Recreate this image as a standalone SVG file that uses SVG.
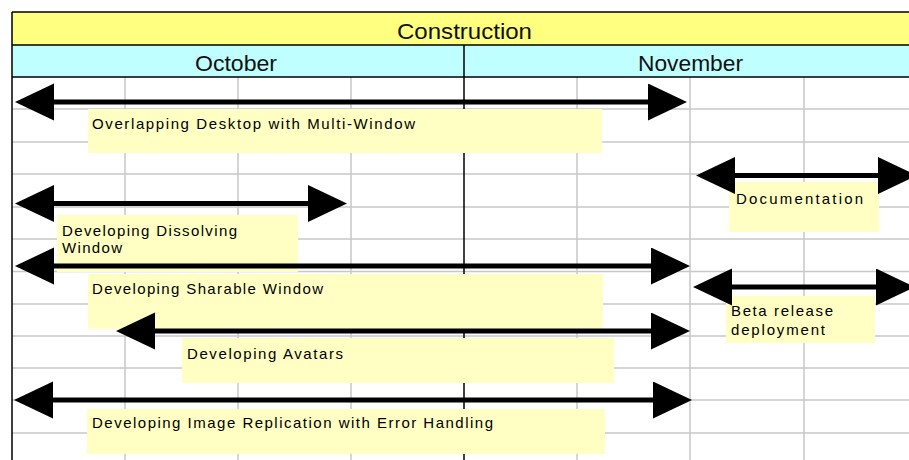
<svg xmlns="http://www.w3.org/2000/svg" width="909" height="460" viewBox="0 0 909 460">
  <style>
    .grid { stroke: #c8c8c8; stroke-width: 1.5; fill: none; }
    .rule { stroke: #000; stroke-width: 1.5; fill: none; }
    .hdr { font-family: "Liberation Sans", Arial, sans-serif; font-size: 22px; fill: #111; }
    .box { fill: #ffffc4; stroke: none; }
    .lbl { font-family: "Liberation Sans", Arial, sans-serif; font-size: 15px; fill: #000; }
    .bar { stroke: #000; stroke-width: 5; fill: none; marker-start: url(#head); marker-end: url(#head); }
  </style>
  <defs>
    <marker id="head" markerUnits="userSpaceOnUse" markerWidth="41" markerHeight="38" refX="1" refY="18.5" orient="auto-start-reverse" viewBox="0 0 41 38">
      <path d="M0,0 L39,18.5 L0,37 Z" fill="#000"/>
    </marker>
  </defs>

  <rect width="909" height="460" fill="#fff"/>

  <!-- sheet grid -->
  <g id="grid">
    <path class="grid" d="M125,77V460 M238,77V460 M351,77V460 M577,77V460 M690,77V460 M804,77V460"/>
    <path class="grid" d="M12,109H916 M12,142H916 M12,174H916 M12,207H916 M12,239H916 M12,271.5H916 M12,304H916 M12,336H916 M12,368H916 M12,400H916 M12,433H916"/>
  </g>

  <!-- phase and month header -->
  <g id="header">
    <rect x="12" y="12" width="904" height="33" fill="#ffff80"/>
    <rect x="12" y="45" width="904" height="32" fill="#c0ffff"/>
    <path class="rule" d="M12,12H916 M12,45H916 M12,77H916 M12,12V460 M464,45V460"/>
    <text class="hdr" x="397" y="38.5" textLength="135" lengthAdjust="spacingAndGlyphs">Construction</text>
    <text class="hdr" x="195" y="71" textLength="82" lengthAdjust="spacingAndGlyphs">October</text>
    <text class="hdr" x="638" y="71" textLength="105" lengthAdjust="spacingAndGlyphs">November</text>
  </g>

  <!-- task labels -->
  <g id="task-overlapping">
    <rect class="box" x="88" y="109" width="514" height="44"/>
    <text class="lbl" x="92" y="129" textLength="323">Overlapping Desktop with Multi-Window</text>
  </g>
  <g id="task-documentation">
    <rect class="box" x="729" y="182" width="150" height="50"/>
    <text class="lbl" x="736" y="204" textLength="127">Documentation</text>
  </g>
  <g id="task-dissolving">
    <rect class="box" x="57" y="215" width="241" height="57"/>
    <text class="lbl" x="62" y="236" textLength="175">Developing Dissolving</text>
    <text class="lbl" x="62" y="253" textLength="60">Window</text>
  </g>
  <g id="task-sharable">
    <rect class="box" x="88" y="274" width="515" height="55"/>
    <text class="lbl" x="92" y="294" textLength="231">Developing Sharable Window</text>
  </g>
  <g id="task-beta">
    <rect class="box" x="726" y="296" width="149" height="47"/>
    <text class="lbl" x="731" y="316" textLength="102">Beta release</text>
    <text class="lbl" x="731" y="335" textLength="94">deployment</text>
  </g>
  <g id="task-avatars">
    <rect class="box" x="182" y="338" width="432" height="45"/>
    <text class="lbl" x="187" y="359" textLength="156">Developing Avatars</text>
  </g>
  <g id="task-replication">
    <rect class="box" x="87" y="409" width="518" height="45"/>
    <text class="lbl" x="92" y="428" textLength="401">Developing Image Replication with Error Handling</text>
  </g>

  <!-- duration arrows -->
  <g id="connectors">
    <line class="bar" x1="53" y1="102" x2="649" y2="102"/>
    <line class="bar" x1="734" y1="175.5" x2="879" y2="175.5"/>
    <line class="bar" x1="53" y1="203.5" x2="309" y2="203.5"/>
    <line class="bar" x1="53" y1="266" x2="652" y2="266"/>
    <line class="bar" x1="731" y1="287" x2="877" y2="287"/>
    <line class="bar" x1="154" y1="331" x2="652" y2="331"/>
    <line class="bar" x1="52" y1="400" x2="654" y2="400"/>
  </g>
</svg>
